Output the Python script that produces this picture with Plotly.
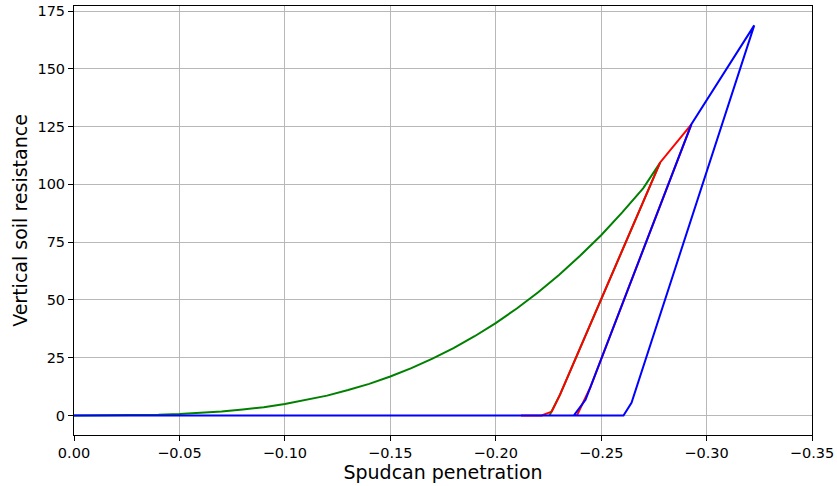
import plotly.graph_objects as go

# Initial penetration (backbone) followed by unloading
green_x = [0.0, -0.01, -0.02, -0.03, -0.04, -0.05, -0.06, -0.07, -0.08, -0.09,
           -0.10, -0.11, -0.12, -0.13, -0.14, -0.15, -0.16, -0.17, -0.18, -0.19,
           -0.20, -0.21, -0.22, -0.23, -0.24, -0.25, -0.26, -0.27, -0.278,
           -0.2305, -0.2255]
green_y = [0.0, 0.0, 0.04, 0.14, 0.3, 0.6, 1.1, 1.7, 2.6, 3.6,
           5.0, 6.7, 8.6, 11.0, 13.7, 16.9, 20.5, 24.6, 29.2, 34.3,
           40.0, 46.3, 53.2, 60.8, 69.1, 78.0, 87.9, 98.4, 109.5,
           9.0, 0.0]

# Second cycle: reload, further penetration, unload
red_x = [-0.212, -0.2218, -0.2266, -0.2305, -0.278, -0.2928, -0.2448, -0.2385]
red_y = [0.0, 0.0, 1.7, 9.0, 109.5, 126.0, 12.0, 0.0]

# Third cycle: reload to peak, unload and lift-off
blue_x = [0.0, -0.237, -0.2426, -0.2928, -0.3226, -0.2644, -0.2606, -0.212]
blue_y = [0.0, 0.0, 6.8, 126.0, 168.8, 5.5, 0.0, 0.0]

x_ticks = [0.0, -0.05, -0.10, -0.15, -0.20, -0.25, -0.30, -0.35]
y_ticks = [0, 25, 50, 75, 100, 125, 150, 175]

fig = go.Figure()
for xs, ys, col in [(green_x, green_y, "#008000"),
                    (red_x, red_y, "#ff0000"),
                    (blue_x, blue_y, "#0000ff")]:
    fig.add_trace(go.Scatter(x=xs, y=ys, mode="lines",
                             line=dict(color=col, width=2),
                             showlegend=False, hoverinfo="skip"))

font = dict(family="DejaVu Sans", color="black")
axis_common = dict(
    showline=True, linecolor="black", linewidth=1, mirror=True,
    ticks="outside", ticklen=5, tickwidth=1, tickcolor="black",
    showgrid=True, gridcolor="#b8b8b8", gridwidth=1,
    zeroline=False, tickfont=dict(size=14.5, **font),
)

fig.update_layout(
    width=837, height=486,
    margin=dict(l=74, r=23, t=3, b=51),
    paper_bgcolor="white", plot_bgcolor="white",
    xaxis=dict(range=[0, -0.35], tickvals=x_ticks, tickformat=".2f",
               title=dict(text="Spudcan penetration", font=dict(size=19, **font),
                          standoff=2),
               **axis_common),
    yaxis=dict(range=[-8.44, 177.2], tickvals=y_ticks,
               title=dict(text="Vertical soil resistance", font=dict(size=19, **font),
                          standoff=4),
               **axis_common),
)

fig.write_html("out.html")
